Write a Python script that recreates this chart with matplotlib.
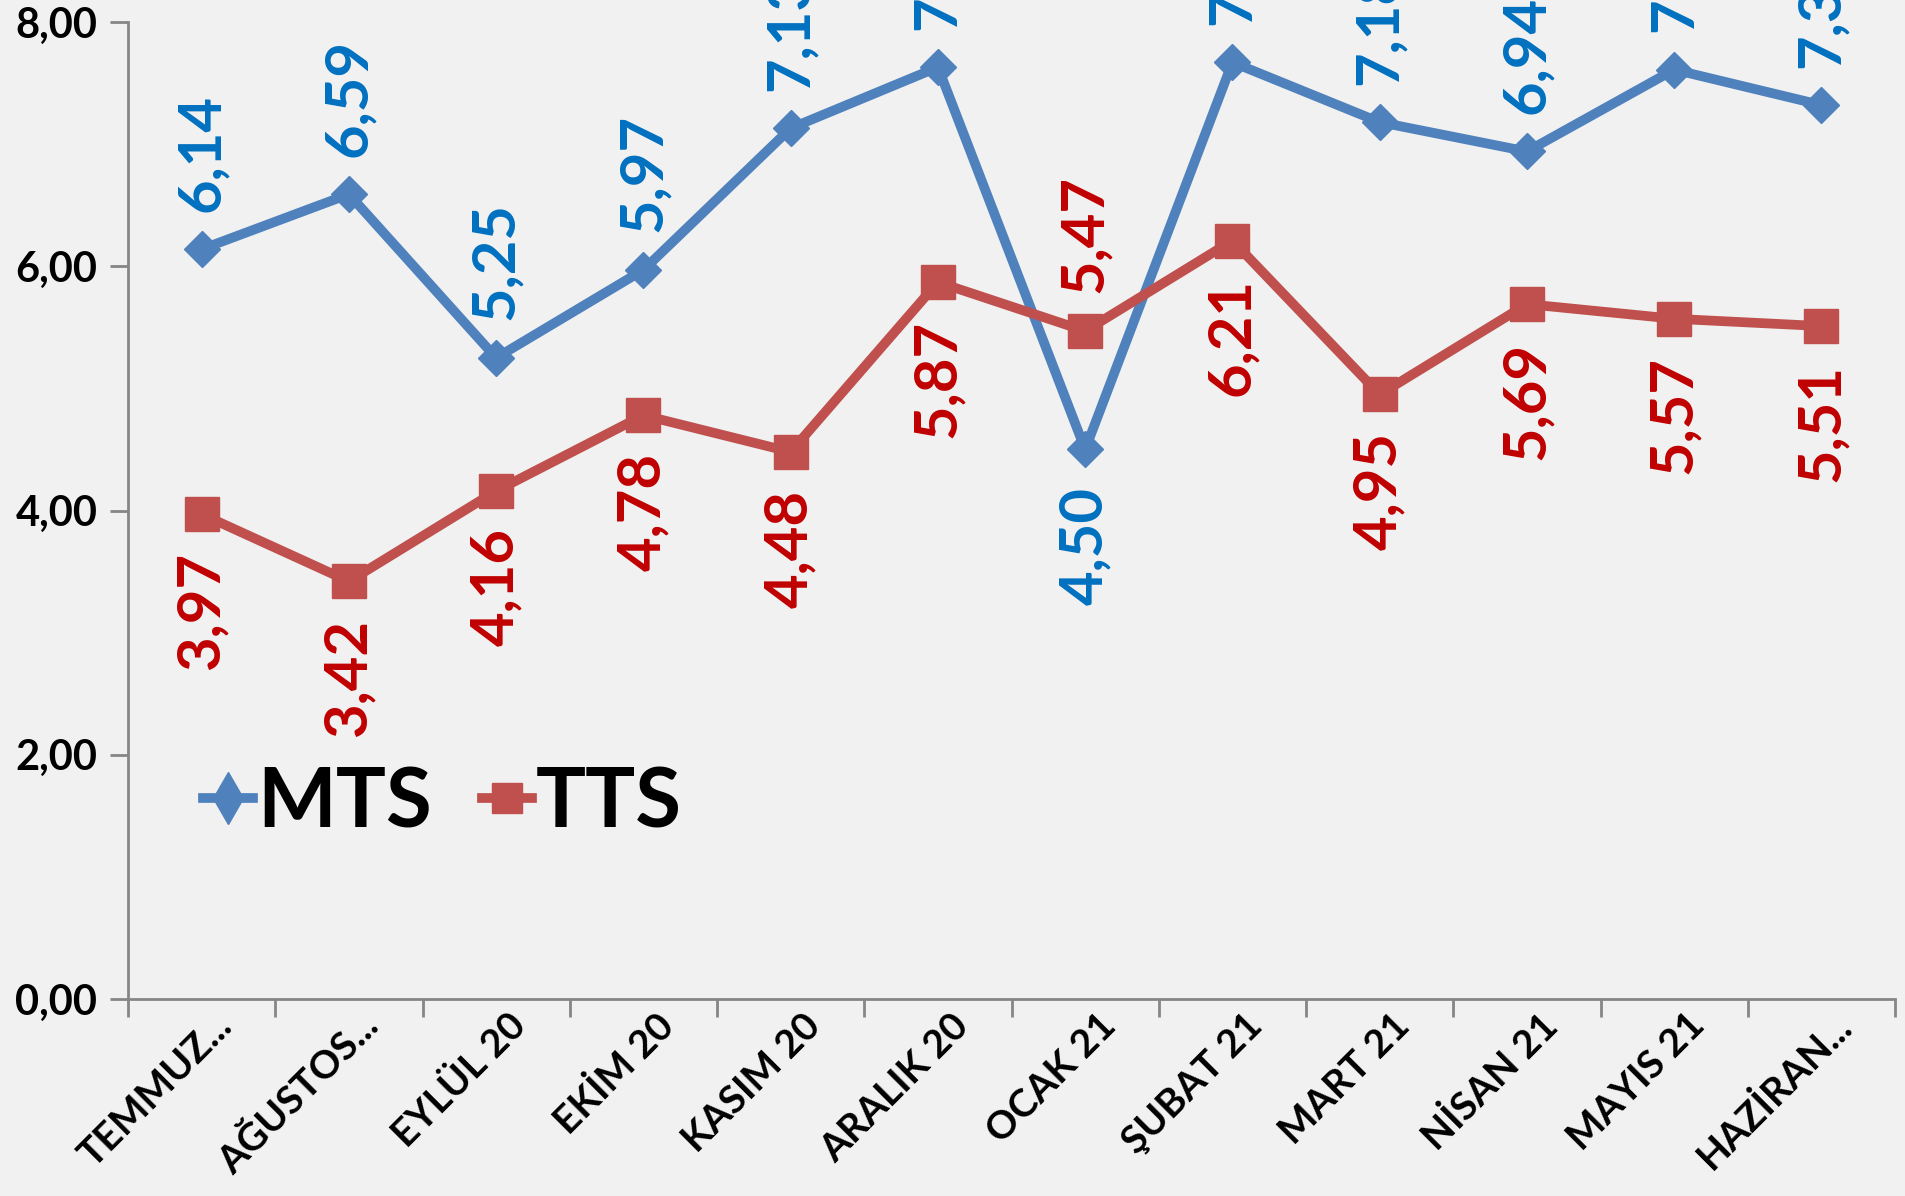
import numpy as np
import matplotlib
matplotlib.use('Agg')
from matplotlib import pyplot as plt
from matplotlib.lines import Line2D
import matplotlib.transforms as mtrans

months = ['TEMMUZ...', 'AĞUSTOS...', 'EYLÜL 20', 'EKİM 20', 'KASIM 20', 'ARALIK 20',
          'OCAK 21', 'ŞUBAT 21', 'MART 21', 'NİSAN 21', 'MAYIS 21', 'HAZİRAN...']
mts = [6.14, 6.59, 5.25, 5.97, 7.13, 7.63, 4.50, 7.67, 7.18, 6.94, 7.61, 7.32]
tts = [3.97, 3.42, 4.16, 4.78, 4.48, 5.87, 5.47, 6.21, 4.95, 5.69, 5.57, 5.51]
yticks = [0, 2, 4, 6, 8]

bg = '#f1f1f1'
fig = plt.figure(figsize=(19.05, 11.96), dpi=100, facecolor=bg)
ax = fig.add_axes([0.0672, 0.1647, 0.9276, 0.8169])
ax.set_facecolor(bg)

x = np.arange(len(months))
ax.plot(x, mts, color='#4F81BD', lw=7, marker='D', ms=18, zorder=3, solid_joinstyle='miter')
ax.plot(x, tts, color='#C0504D', lw=7, marker='s', ms=25, zorder=3)

fnt = 'Lato'
# etiketler: MTS üstte, TTS altta (OCAK 21 ters)
for i in range(len(months)):
    up = i != 6
    ax.annotate(f'{mts[i]:.2f}'.replace('.', ','), (x[i], mts[i]),
                xytext=(0, 27 if up else -27), textcoords='offset points',
                rotation=90, ha='center', va='bottom' if up else 'top',
                color='#0070C0', fontsize=43, fontweight='bold', family=fnt,
                annotation_clip=False, zorder=4)
    ax.annotate(f'{tts[i]:.2f}'.replace('.', ','), (x[i], tts[i]),
                xytext=(0, -27 if up else 27), textcoords='offset points',
                rotation=90, ha='center', va='top' if up else 'bottom',
                color='#C00000', fontsize=43, fontweight='bold', family=fnt,
                annotation_clip=False, zorder=4)

ax.set_xlim(-0.5, len(months) - 0.5)
ax.set_ylim(0, 8)
ax.set_yticks(yticks)
ax.set_yticklabels([f'{v:.2f}'.replace('.', ',') for v in yticks],
                   fontsize=30, fontweight='bold', family=fnt)
ax.set_xticks(x)
ax.set_xticklabels(months, rotation=45, ha='right', va='top', rotation_mode='anchor',
                   fontsize=28, fontweight='bold', family=fnt)
ax.set_xticks(np.arange(-0.5, len(months)), minor=True)
ax.tick_params(axis='x', which='major', length=0, pad=6)
ax.tick_params(axis='x', which='minor', length=13, width=2, color='#868686')
ax.tick_params(axis='y', length=13, width=2, color='#868686', pad=9)
for lb in ax.get_xticklabels():
    lb.set_transform(lb.get_transform() + mtrans.ScaledTranslation(0.12, 0, fig.dpi_scale_trans))

for s in ['top', 'right']:
    ax.spines[s].set_visible(False)
for s in ['left', 'bottom']:
    ax.spines[s].set_color('#868686')
    ax.spines[s].set_linewidth(2)

handles = [Line2D([], [], color='#4F81BD', lw=7, marker='d', ms=26),
           Line2D([], [], color='#C0504D', lw=7, marker='s', ms=22)]
ax.legend(handles, ['MTS', 'TTS'], loc='center left', bbox_to_anchor=(0.0, 0.2), ncol=2,
          frameon=False, handlelength=0.6, handletextpad=0.05, columnspacing=0.6,
          prop={'family': fnt, 'weight': 'bold', 'size': 60})

fig.savefig('out.png', dpi=100, facecolor=bg)
